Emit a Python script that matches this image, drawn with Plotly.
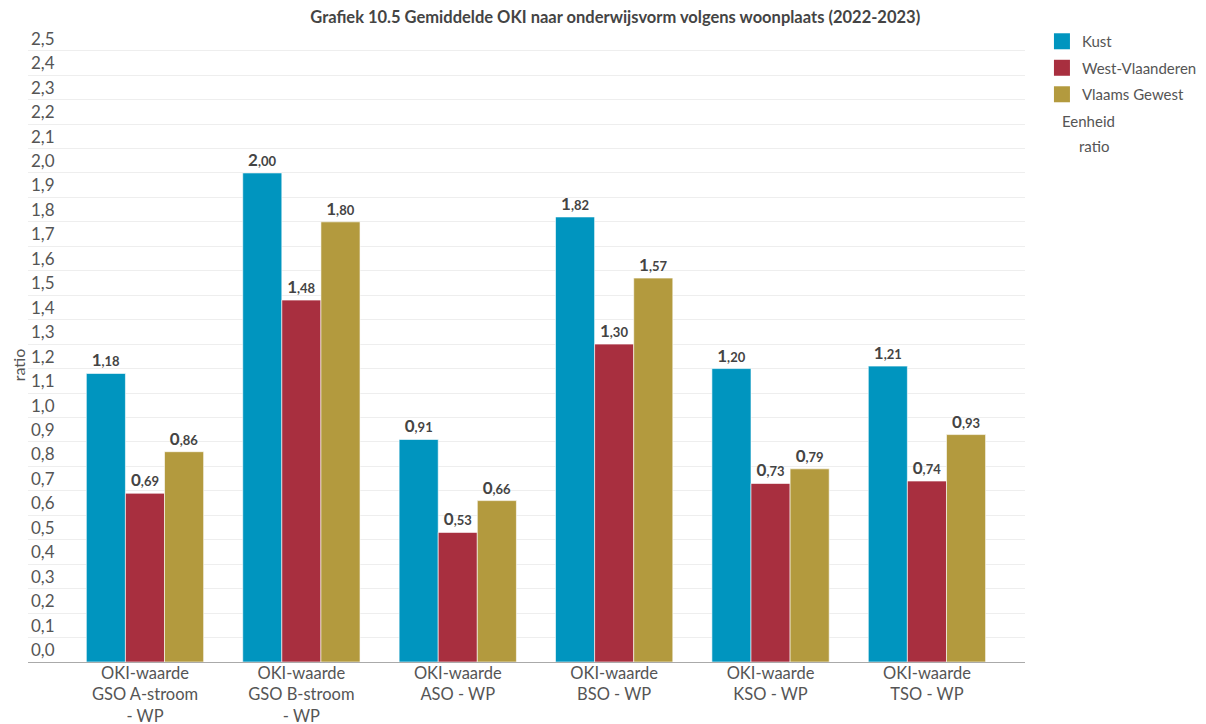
import plotly.graph_objects as go

categories = [
    "OKI-waarde<br>GSO A-stroom<br>- WP",
    "OKI-waarde<br>GSO B-stroom<br>- WP",
    "OKI-waarde<br>ASO - WP",
    "OKI-waarde<br>BSO - WP",
    "OKI-waarde<br>KSO - WP",
    "OKI-waarde<br>TSO - WP",
]
kust = [1.18, 2.00, 0.91, 1.82, 1.20, 1.21]
west_vlaanderen = [0.69, 1.48, 0.53, 1.30, 0.73, 0.74]
vlaams_gewest = [0.86, 1.80, 0.66, 1.57, 0.79, 0.93]

series = [
    ("Kust", kust, "#0095bf"),
    ("West-Vlaanderen", west_vlaanderen, "#a82f3f"),
    ("Vlaams Gewest", vlaams_gewest, "#b39a3e"),
]

FONT = "Lato, 'Open Sans', sans-serif"


def label(v):
    whole, dec = f"{v:.2f}".split(".")
    return f"<b>{whole}</b><span style='font-size:13px'><b>,{dec}</b></span>"


fig = go.Figure()
for name, vals, color in series:
    fig.add_trace(go.Bar(
        x=categories, y=vals, name=name, legendgroup=name, showlegend=False,
        marker=dict(color=color, line=dict(color="rgba(255,255,255,0.6)", width=1)),
        text=[label(v) for v in vals],
        textposition="outside",
        textfont=dict(size=17, color="#444444", family=FONT),
        cliponaxis=False,
    ))
    # legend entry with the bigger square swatch of the original
    fig.add_trace(go.Scatter(
        x=[None], y=[None], name=name, legendgroup=name, mode="markers",
        marker=dict(symbol="square", size=16, color=color),
    ))

# the page adds an 8px body margin, so everything sits 8px lower/right
fig.update_layout(
    title=dict(
        text="<b>Grafiek 10.5 Gemiddelde OKI naar onderwijsvorm volgens woonplaats (2022-2023)</b>",
        xref="paper", x=0.589, xanchor="center",
        yref="container", y=0.9876, yanchor="middle",
        font=dict(size=16.5, color="#444444", family=FONT),
    ),
    font=dict(family=FONT, color="#555555"),
    separators=",.",
    barmode="group",
    bargap=0.25,
    bargroupgap=0,
    plot_bgcolor="white",
    paper_bgcolor="white",
    width=1230,
    height=724,
    margin=dict(l=20, r=213, t=6, b=70),
    legend=dict(
        x=1.017, y=0.983, xanchor="left", yanchor="top",
        font=dict(size=15, color="#555555"),
        itemwidth=30, tracegroupgap=4, itemsizing="trace",
    ),
    xaxis=dict(
        range=[-0.748, 5.627],
        automargin=False,
        showline=True, linecolor="#aaaaaa", linewidth=1,
        tickfont=dict(size=16.5, color="#555555"),
        ticklabelstandoff=-4,
        ticks="",
    ),
    yaxis=dict(
        range=[0, 2.65],
        tickvals=[i / 10 for i in range(26)],
        tickformat=".1f",
        ticklabelposition="inside top",
        tickfont=dict(size=17, color="#555555"),
        gridcolor="#eeeeee",
        zeroline=False,
        automargin=False,
    ),
    annotations=[
        dict(text="ratio", xref="paper", yref="paper", x=-0.01, y=0.458,
             xanchor="center", yanchor="middle",
             textangle=-90, showarrow=False, font=dict(size=16, color="#555555")),
        dict(text="Eenheid", xref="paper", yref="paper", x=1.035, y=0.835,
             xanchor="left", yanchor="middle", showarrow=False,
             font=dict(size=15, color="#555555")),
        dict(text="ratio", xref="paper", yref="paper", x=1.052, y=0.796,
             xanchor="left", yanchor="middle", showarrow=False,
             font=dict(size=15, color="#555555")),
    ],
)

fig.write_html("out.html")
